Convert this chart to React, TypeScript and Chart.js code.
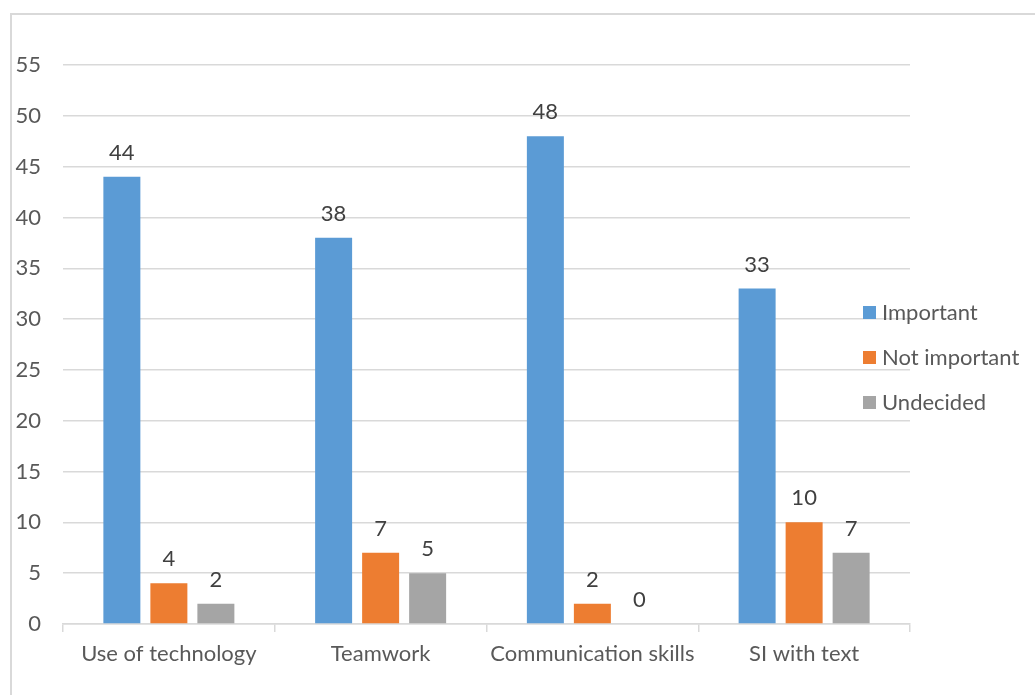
import React, { useEffect, useRef } from "react";
import { Chart, registerables } from "chart.js";

Chart.register(...registerables);

const categories = ["Use of technology", "Teamwork", "Communication skills", "SI with text"];
const important = [44, 38, 48, 33];
const notImportant = [4, 7, 2, 10];
const undecided = [2, 5, 0, 7];
const seriesNames = ["Important", "Not important", "Undecided"];
const seriesColors = ["#5B9BD5", "#ED7D31", "#A5A5A5"];

const FONT = "Lato, 'Open Sans', sans-serif";
const FS = 22;

const labelPlugin = {
  id: "valueLabels",
  afterDatasetsDraw(chart: any) {
    const ctx = chart.ctx;
    ctx.save();
    ctx.font = `${FS}px ${FONT}`;
    ctx.fillStyle = "#404040";
    ctx.textAlign = "center";
    ctx.textBaseline = "alphabetic";
    chart.data.datasets.forEach((ds: any, i: number) => {
      const meta = chart.getDatasetMeta(i);
      meta.data.forEach((bar: any, j: number) => {
        ctx.fillText(String(ds.data[j]), bar.x, bar.y - 17);
      });
    });
    ctx.restore();
  },
};

const legendPlugin = {
  id: "sideLegend",
  afterDraw(chart: any) {
    const ctx = chart.ctx;
    ctx.save();
    ctx.font = `${FS}px ${FONT}`;
    ctx.textBaseline = "middle";
    ctx.textAlign = "left";
    const x0 = 851;
    const y0 = 297;
    chart.data.datasets.forEach((ds: any, i: number) => {
      const y = y0 + i * 45;
      ctx.fillStyle = ds.backgroundColor;
      ctx.fillRect(x0, y - 6, 13, 13);
      ctx.fillStyle = "#595959";
      ctx.fillText(ds.label, x0 + 19, y + 1);
    });
    ctx.restore();
  },
};

export default function App() {
  const ref = useRef<HTMLCanvasElement>(null);
  useEffect(() => {
    if (!ref.current) return;
    const values = [important, notImportant, undecided];
    const chart = new Chart(ref.current, {
      type: "bar",
      data: {
        labels: categories,
        datasets: values.map((d, i) => ({
          label: seriesNames[i],
          data: d,
          backgroundColor: seriesColors[i],
          categoryPercentage: 0.666,
          barPercentage: 0.787,
        })),
      },
      options: {
        animation: false,
        responsive: false,
        maintainAspectRatio: false,
        layout: { padding: { top: 50, right: 125, bottom: 0, left: 0 } },
        plugins: { legend: { display: false }, tooltip: { enabled: false } },
        scales: {
          x: {
            offset: true,
            grid: {
              offset: true,
              drawOnChartArea: false,
              drawTicks: true,
              tickLength: 8,
              color: "#d9d9d9",
              lineWidth: 1.5,
            },
            border: { display: true, color: "#d9d9d9", width: 1.5 },
            ticks: { font: { family: FONT, size: FS }, color: "#595959", padding: 9 },
            afterFit(scale: any) {
              scale.height = 69;
            },
          },
          y: {
            min: 0,
            max: 55,
            ticks: { stepSize: 5, font: { family: FONT, size: FS }, color: "#595959", padding: 22 },
            grid: { drawTicks: false, color: "#d9d9d9", lineWidth: 1.5 },
            border: { display: false },
            afterFit(scale: any) {
              scale.width = 51;
            },
          },
        },
      },
      plugins: [labelPlugin, legendPlugin],
    });
    return () => chart.destroy();
  }, []);

  return (
    <div style={{ position: "fixed", left: 0, top: 0, width: 1035, height: 695, overflow: "hidden", background: "#fff" }}>
      <div
        style={{
          position: "absolute",
          left: 10,
          top: 13,
          width: 1100,
          height: 700,
          borderLeft: "2px solid #d9d9d9",
          borderTop: "2px solid #d9d9d9",
        }}
      >
        <canvas ref={ref} width={1023} height={678} style={{ display: "block" }} />
      </div>
    </div>
  );
}
